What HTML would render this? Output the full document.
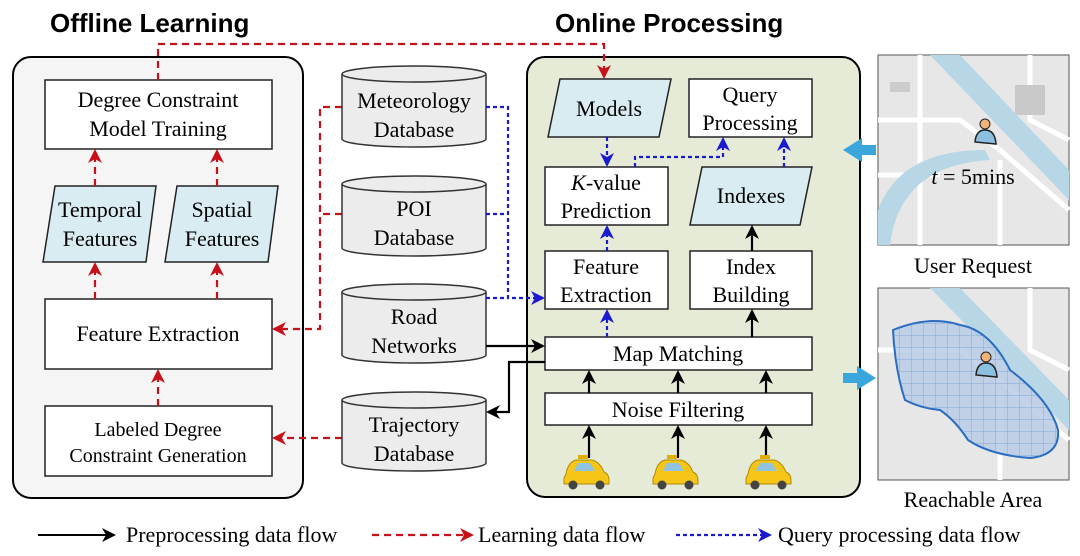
<!DOCTYPE html>
<html><head><meta charset="utf-8"><style>
body{margin:0;background:#fff}
svg{display:block}
.t{font-family:"Liberation Serif",serif;font-size:22px;fill:#000;text-anchor:middle}
.h{font-family:"Liberation Sans",sans-serif;font-weight:bold;font-size:26px;fill:#000}
</style></head><body>
<svg width="1080" height="556" viewBox="0 0 1080 556" xmlns="http://www.w3.org/2000/svg">
<defs>
<marker id="ab" markerWidth="14" markerHeight="14" refX="12" refY="7" orient="auto" markerUnits="userSpaceOnUse"><path d="M0,0 L14,7 L0,14 L4,7z" fill="#000"/></marker>
<marker id="ar" markerWidth="14" markerHeight="14" refX="12" refY="7" orient="auto" markerUnits="userSpaceOnUse"><path d="M0,0 L14,7 L0,14 L4,7z" fill="#c8101a"/></marker>
<marker id="au" markerWidth="14" markerHeight="14" refX="12" refY="7" orient="auto" markerUnits="userSpaceOnUse"><path d="M0,0 L14,7 L0,14 L4,7z" fill="#1a1ad0"/></marker>
<pattern id="grid" width="12" height="12" patternUnits="userSpaceOnUse"><path d="M12 0V12M0 12H12" stroke="#5a8ed0" stroke-width="1" fill="none"/></pattern>
</defs>

<text class="h" x="50" y="32">Offline Learning</text>
<text class="h" x="555" y="32">Online Processing</text>

<rect x="13" y="57" width="290" height="441" rx="18" fill="#f5f5f5" stroke="#000" stroke-width="2"/>
<rect x="527" y="57" width="333" height="440" rx="18" fill="#e6ebd8" stroke="#000" stroke-width="2"/>

<g stroke="#222" stroke-width="1.5">
<rect x="45" y="80" width="227" height="69" fill="#fff"/>
<polygon points="55,186 156,186 146,262 43,262" fill="#d9ecf2"/>
<polygon points="177,186 278,186 268,262 165,262" fill="#d9ecf2"/>
<rect x="45" y="299" width="227" height="70" fill="#fff"/>
<rect x="45" y="406" width="227" height="70" fill="#fff"/>
</g>
<text class="t" x="158" y="107">Degree Constraint</text>
<text class="t" x="158" y="136">Model Training</text>
<text class="t" x="100" y="217">Temporal</text>
<text class="t" x="100" y="246">Features</text>
<text class="t" x="222" y="217">Spatial</text>
<text class="t" x="222" y="246">Features</text>
<text class="t" x="158" y="341">Feature Extraction</text>
<text class="t" x="158" y="436" style="font-size:20px">Labeled Degree</text>
<text class="t" x="158" y="462" style="font-size:20px">Constraint Generation</text>

<g stroke="#c8101a" stroke-width="2.2" stroke-dasharray="7,5" fill="none">
<path d="M95 186V151" marker-end="url(#ar)"/>
<path d="M217 186V151" marker-end="url(#ar)"/>
<path d="M95 299V264" marker-end="url(#ar)"/>
<path d="M217 299V264" marker-end="url(#ar)"/>
<path d="M158 406V371" marker-end="url(#ar)"/>
<path d="M158 80V44H604V77" marker-end="url(#ar)"/>
<path d="M342 107H320V329H274" marker-end="url(#ar)"/>
<path d="M342 214H320"/>
<path d="M342 438H274" marker-end="url(#ar)"/>
</g>

<g stroke="#333" stroke-width="1.5" fill="#ececec">
<path d="M342 74V139A72 8 0 0 0 486 139V74"/><ellipse cx="414" cy="74" rx="72" ry="8"/>
<path d="M342 184V248A72 8 0 0 0 486 248V184"/><ellipse cx="414" cy="184" rx="72" ry="8"/>
<path d="M342 292V355A72 8 0 0 0 486 355V292"/><ellipse cx="414" cy="292" rx="72" ry="8"/>
<path d="M342 400V463A72 8 0 0 0 486 463V400"/><ellipse cx="414" cy="400" rx="72" ry="8"/>
</g>
<text class="t" x="414" y="108">Meteorology</text>
<text class="t" x="414" y="137">Database</text>
<text class="t" x="414" y="216">POI</text>
<text class="t" x="414" y="245">Database</text>
<text class="t" x="414" y="324">Road</text>
<text class="t" x="414" y="353">Networks</text>
<text class="t" x="414" y="432">Trajectory</text>
<text class="t" x="414" y="461">Database</text>

<g stroke="#222" stroke-width="1.5">
<polygon points="560,79 671,79 659,137 548,137" fill="#d9ecf2"/>
<rect x="689" y="79" width="123" height="58" fill="#fff"/>
<rect x="545" y="167" width="123" height="58" fill="#fff"/>
<polygon points="702,167 812,167 800,225 690,225" fill="#d9ecf2"/>
<rect x="545" y="251" width="123" height="58" fill="#fff"/>
<rect x="690" y="251" width="122" height="58" fill="#fff"/>
<rect x="545" y="337" width="267" height="33" fill="#fff"/>
<rect x="545" y="393" width="267" height="32" fill="#fff"/>
</g>
<text class="t" x="609" y="116">Models</text>
<text class="t" x="750" y="102">Query</text>
<text class="t" x="750" y="130">Processing</text>
<text class="t" x="606" y="190"><tspan font-style="italic">K</tspan>-value</text>
<text class="t" x="606" y="218">Prediction</text>
<text class="t" x="751" y="203">Indexes</text>
<text class="t" x="606" y="274">Feature</text>
<text class="t" x="606" y="302">Extraction</text>
<text class="t" x="751" y="274">Index</text>
<text class="t" x="751" y="302">Building</text>
<text class="t" x="678" y="361">Map Matching</text>
<text class="t" x="678" y="417">Noise Filtering</text>

<g stroke="#1a1ad0" stroke-width="2.2" stroke-dasharray="4,3" fill="none">
<path d="M607 137V165" marker-end="url(#au)"/>
<path d="M607 251V227" marker-end="url(#au)"/>
<path d="M607 337V311" marker-end="url(#au)"/>
<path d="M635 167V157H723V139" marker-end="url(#au)"/>
<path d="M784 167V139" marker-end="url(#au)"/>
<path d="M486 107H508V298H543" marker-end="url(#au)"/>
<path d="M486 214H508"/>
<path d="M486 298H508"/>
</g>
<g stroke="#000" stroke-width="2.2" fill="none">
<path d="M752 337V311" marker-end="url(#ab)"/>
<path d="M752 251V227" marker-end="url(#ab)"/>
<path d="M589 393V372" marker-end="url(#ab)"/>
<path d="M678 393V372" marker-end="url(#ab)"/>
<path d="M766 393V372" marker-end="url(#ab)"/>
<path d="M589 458V427" marker-end="url(#ab)"/>
<path d="M678 458V427" marker-end="url(#ab)"/>
<path d="M766 458V427" marker-end="url(#ab)"/>
<path d="M486 346H543" marker-end="url(#ab)"/>
<path d="M545 362H509V412H488" marker-end="url(#ab)"/>
</g>

<g id="taxi">
<rect x="578" y="455" width="10" height="4" fill="#e0b000"/>
<path d="M566 474Q568 462 576 460H592Q600 462 604 472Q609 474 609 480V484H564V478Z" fill="#f5c518" stroke="#b08a00" stroke-width="1"/>
<path d="M574 471L578 463H590L595 471Z" fill="#8fc3e0"/>
<circle cx="573" cy="485" r="4.5" fill="#444"/><circle cx="600" cy="485" r="4.5" fill="#444"/>
</g>
<use href="#taxi" x="89"/>
<use href="#taxi" x="182"/>

<g>
<rect x="878" y="55" width="191" height="190" fill="#e7e7e7" stroke="#555"/>
<g stroke="#fff" stroke-width="5" fill="none">
<path d="M878 120H960L1000 150"/><path d="M920 55V245"/><path d="M1000 150L1069 210"/><path d="M1000 160V245"/><path d="M1030 55V120L1069 140"/><path d="M878 175H940"/>
</g>
<path d="M930 55L960 55L1069 170L1069 200Z" fill="#b7d7e6"/>
<path d="M878 210Q900 150 985 150L990 160Q900 165 890 245H878Z" fill="#b7d7e6"/>
<rect x="1015" y="85" width="30" height="30" fill="#c9c9c9"/>
<rect x="890" y="82" width="20" height="10" fill="#ccc"/>
<circle cx="985" cy="124" r="5" fill="#f0b37a" stroke="#222"/>
<path d="M975 142Q976 130 985 130Q995 130 996 144Z" fill="#8cc0e0" stroke="#222" stroke-width="1.5"/>
<text class="t" x="973" y="184"><tspan font-style="italic">t</tspan> = 5mins</text>
<text class="t" x="973" y="273">User Request</text>

<rect x="878" y="288" width="191" height="192" fill="#e7e7e7" stroke="#555"/>
<g stroke="#fff" stroke-width="5" fill="none">
<path d="M878 350H960L1000 380"/><path d="M1000 380L1069 440"/><path d="M1030 288V350L1069 370"/><path d="M1000 390V480"/>
</g>
<path d="M930 288L960 288L1069 400L1069 430Z" fill="#b7d7e6"/>
<path d="M893 330Q930 315 960 325Q990 330 1010 370Q1050 400 1058 430Q1060 455 1030 458Q990 455 968 440Q955 420 940 410Q920 408 905 400Q895 370 893 330Z" fill="#b9cde6" fill-opacity="0.85" stroke="#2a6cc0" stroke-width="2"/>
<path d="M893 330Q930 315 960 325Q990 330 1010 370Q1050 400 1058 430Q1060 455 1030 458Q990 455 968 440Q955 420 940 410Q920 408 905 400Q895 370 893 330Z" fill="url(#grid)" opacity="0.6"/>
<circle cx="986" cy="357" r="5" fill="#f0b37a" stroke="#222"/>
<path d="M976 375Q977 363 986 363Q996 363 997 377Z" fill="#8cc0e0" stroke="#222" stroke-width="1.5"/>
<text class="t" x="973" y="507">Reachable Area</text>
</g>

<polygon points="843,150 862,138 862,145 876,145 876,155 862,155 862,162" fill="#3aa6dc"/>
<polygon points="876,378 857,366 857,373 843,373 843,383 857,383 857,390" fill="#3aa6dc"/>

<path d="M38 535H114" stroke="#000" stroke-width="2" marker-end="url(#ab)"/>
<text class="t" x="126" y="542" style="text-anchor:start">Preprocessing data flow</text>
<path d="M372 535H472" stroke="#c8101a" stroke-width="2.2" stroke-dasharray="7,5" marker-end="url(#ar)"/>
<text class="t" x="478" y="542" style="text-anchor:start">Learning data flow</text>
<path d="M676 535H770" stroke="#1a1ad0" stroke-width="2.2" stroke-dasharray="4,3" marker-end="url(#au)"/>
<text class="t" x="778" y="542" style="text-anchor:start">Query processing data flow</text>
</svg>
</body></html>
